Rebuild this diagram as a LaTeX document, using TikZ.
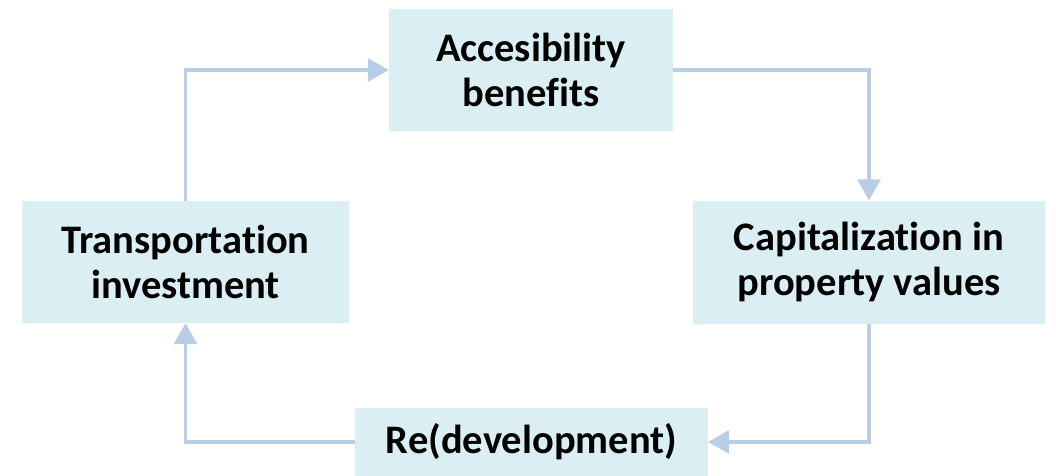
\documentclass[tikz,border=0pt]{standalone}
\usepackage{fontspec}
\setmainfont[Ligatures=NoCommon]{Carlito}
\usetikzlibrary{positioning,arrows.meta}

\definecolor{boxfill}{HTML}{DAEEF3}
\definecolor{arrowblue}{HTML}{B9CDE5}

\begin{document}
\begin{tikzpicture}[x=1pt,y=-1pt,
    stage/.style={fill=boxfill, inner sep=0pt, align=center,
        font=\fontsize{40.5}{45}\selectfont\bfseries},
    flow/.style={arrowblue, line width=3.5pt,
        -{Triangle[length=21pt,width=23pt]}}]
\useasboundingbox (0,0) rectangle (1056,475);
\node[stage, minimum width=327pt, minimum height=122pt] (invest) at (185.5,262)
    {Transportation\\investment};
\node[stage, minimum width=284pt, minimum height=122pt] (access) at (531,70)
    {Accesibility\\benefits};
\node[stage, minimum width=352pt, minimum height=123pt] (capital) at (869,262)
    {Capitalization in\\property values};
\node[stage, minimum width=353pt, minimum height=68pt] (redev) at (531.5,442)
    {Re(development)};
\draw[flow] (invest.north) |- (access.west);
\draw[flow] (access.east) -| (capital.north);
\draw[flow] (capital.south) |- (redev.east);
\draw[flow] (redev.west) -| (invest.south);
\end{tikzpicture}
\end{document}
